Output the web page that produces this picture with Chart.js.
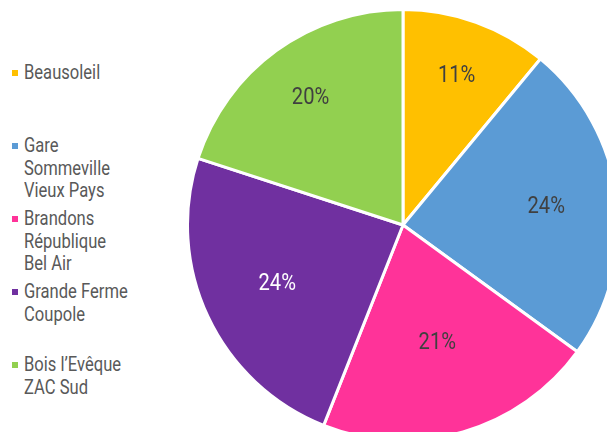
<!DOCTYPE html>
<html>
<head>
<meta charset="utf-8">
<script src="https://cdn.jsdelivr.net/npm/chart.js@4/dist/chart.umd.min.js"></script>
<style>
    html, body {
        margin: 0;
        padding: 0;
        width: 607px;
        height: 432px;
        overflow: hidden;
        background: #ffffff;
        font-family: Roboto, "Noto Sans", sans-serif;
    }
    #pieBox {
        position: absolute;
        left: 186px;
        top: 8px;
        width: 434px;
        height: 434px;
    }
    #legend {
        position: absolute;
        left: 0;
        top: 0;
    }
    .item {
        position: absolute;
        left: 24px;
        font-size: 19.5px;
        line-height: 22.5px;
        color: #595959;
        white-space: nowrap;
    }
    .item .txt {
        display: inline-block;
        transform: scaleX(0.85);
        transform-origin: left top;
    }
    .item .box {
        position: absolute;
        left: -12px;
        top: 8px;
        width: 6px;
        height: 6px;
    }
</style>
</head>
<body>
<div id="legend"></div>
<div id="pieBox"><canvas id="pie"></canvas></div>
<script>
// Quartiers and their share
const quartiers = [
    ['Beausoleil'],
    ['Gare', 'Sommeville', 'Vieux Pays'],
    ['Brandons', 'République', 'Bel Air'],
    ['Grande Ferme', 'Coupole'],
    ['Bois l\u2019Evêque', 'ZAC Sud']
];
const parts = [11, 24, 21, 24, 20];
const sliceColors = ['#FFC000', '#5B9BD5', '#FF3399', '#7030A0', '#92D050'];
const labelColors = ['#404040', '#404040', '#404040', '#ffffff', '#404040'];

// legend on the left, one slot per quartier
const legendEl = document.getElementById('legend');
quartiers.forEach((lines, i) => {
    const div = document.createElement('div');
    div.className = 'item';
    div.style.top = (62 + i * 73) + 'px';
    div.innerHTML = '<span class="box" style="background:' + sliceColors[i] + '"></span>'
        + '<span class="txt">' + lines.join('<br>') + '</span>';
    legendEl.appendChild(div);
});

// how far out each percentage sits (fraction of the radius), like the original "best fit"
const labelRadius = [0.735, 0.67, 0.57, 0.645, 0.73];

const sliceLabels = {
    id: 'sliceLabels',
    afterDatasetsDraw(chart) {
        const ctx = chart.ctx;
        const meta = chart.getDatasetMeta(0);
        meta.data.forEach((arc, i) => {
            const p = arc.getProps(['x', 'y', 'startAngle', 'endAngle', 'outerRadius'], true);
            const mid = (p.startAngle + p.endAngle) / 2;
            const r = p.outerRadius * labelRadius[i];
            ctx.save();
            ctx.translate(p.x + Math.cos(mid) * r, p.y + Math.sin(mid) * r);
            ctx.scale(0.84, 1);
            ctx.font = '24px Roboto';
            ctx.textAlign = 'center';
            ctx.textBaseline = 'middle';
            ctx.fillStyle = labelColors[i];
            ctx.fillText(parts[i] + '%', 0, 0);
            ctx.restore();
        });
    }
};

new Chart(document.getElementById('pie'), {
    type: 'pie',
    data: {
        labels: quartiers.map(l => l.join(' ')),
        datasets: [{
            data: parts,
            backgroundColor: sliceColors,
            borderColor: '#ffffff',
            borderWidth: 3
        }]
    },
    options: {
        responsive: true,
        maintainAspectRatio: false,
        animation: false,
        plugins: {
            legend: { display: false },
            tooltip: { enabled: false }
        }
    },
    plugins: [sliceLabels]
});
</script>
</body>
</html>
